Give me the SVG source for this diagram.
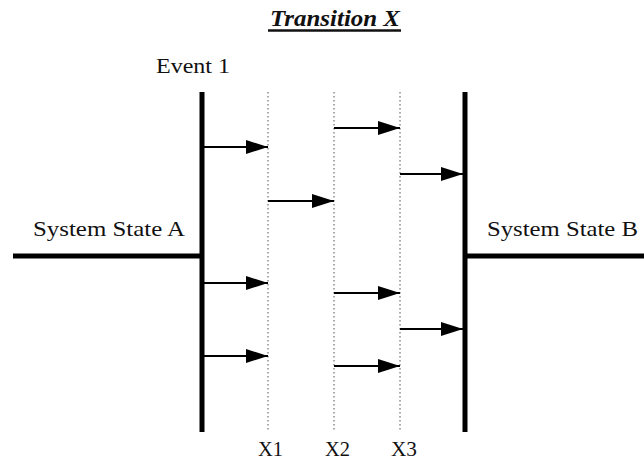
<svg xmlns="http://www.w3.org/2000/svg" width="644" height="461" viewBox="0 0 644 461">
<style>
text{font-family:"Liberation Serif","Times New Roman",serif;fill:#111}
.lbl{font-size:21px}
.thick{stroke:#000;stroke-width:5;fill:none}
.dot{stroke:#555;stroke-width:1;stroke-dasharray:1.5 2.5;fill:none}
.arr{stroke:#000;stroke-width:2;fill:none;marker-end:url(#ah)}
</style>
<defs>
<marker id="ah" markerUnits="userSpaceOnUse" markerWidth="24" markerHeight="16" refX="22" refY="7" orient="auto">
<path d="M0,0 L22,7 L0,14 Z" fill="#000"/>
</marker>
</defs>
<rect width="644" height="461" fill="#fff"/>
<g id="title">
<text x="270" y="26" font-size="23" font-weight="bold" font-style="italic" textLength="130" lengthAdjust="spacingAndGlyphs">Transition X</text>
<line x1="268" y1="30.5" x2="401" y2="30.5" stroke="#111" stroke-width="2.5"/>
</g>
<g id="event1"><text class="lbl" x="156" y="73" textLength="74" lengthAdjust="spacingAndGlyphs">Event 1</text></g>
<g id="stateA">
<text class="lbl" x="33" y="236" textLength="152" lengthAdjust="spacingAndGlyphs">System State A</text>
<line class="thick" x1="13" y1="256" x2="202" y2="256"/>
<line class="thick" x1="202" y1="92" x2="202" y2="432"/>
</g>
<g id="stateB">
<text class="lbl" x="487" y="236" textLength="151" lengthAdjust="spacingAndGlyphs">System State B</text>
<line class="thick" x1="465" y1="256" x2="644" y2="256"/>
<line class="thick" x1="465" y1="92" x2="465" y2="432"/>
</g>
<g id="x1"><line class="dot" x1="268" y1="92" x2="268" y2="432"/><text class="lbl" x="258" y="456" textLength="25" lengthAdjust="spacingAndGlyphs">X1</text></g>
<g id="x2"><line class="dot" x1="334" y1="92" x2="334" y2="432"/><text class="lbl" x="325" y="456" textLength="25" lengthAdjust="spacingAndGlyphs">X2</text></g>
<g id="x3"><line class="dot" x1="400" y1="92" x2="400" y2="432"/><text class="lbl" x="391" y="456" textLength="26" lengthAdjust="spacingAndGlyphs">X3</text></g>
<g id="connectors">
<line class="arr" x1="204" y1="147" x2="268" y2="147"/>
<line class="arr" x1="334" y1="128" x2="400" y2="128"/>
<line class="arr" x1="400" y1="174" x2="463" y2="174"/>
<line class="arr" x1="268" y1="201" x2="334" y2="201"/>
<line class="arr" x1="204" y1="283" x2="268" y2="283"/>
<line class="arr" x1="334" y1="293" x2="400" y2="293"/>
<line class="arr" x1="400" y1="329" x2="463" y2="329"/>
<line class="arr" x1="204" y1="356" x2="268" y2="356"/>
<line class="arr" x1="334" y1="366" x2="400" y2="366"/>
</g>
</svg>
